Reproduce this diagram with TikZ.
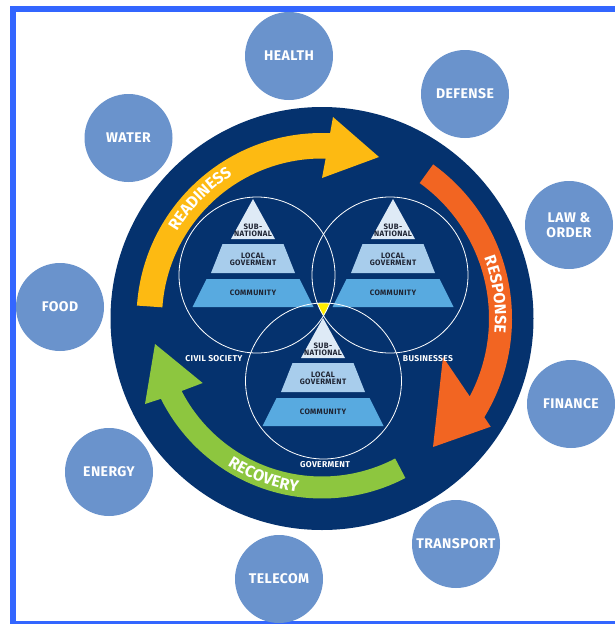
\documentclass[tikz,border=0pt]{standalone}
\usepackage{fontspec}
\setmainfont{Fira Sans}
\newfontfamily\pyrfam[LetterSpace=5]{Fira Sans}
\newfontfamily\lblfam[LetterSpace=4]{Fira Sans}
\newfontfamily\bubfam[LetterSpace=3]{Fira Sans}
\usetikzlibrary{calc,decorations.text}

\definecolor{navy}{RGB}{5,50,110}
\definecolor{bubblec}{RGB}{106,147,204}
\definecolor{frameblue}{RGB}{51,102,255}
\definecolor{pyrtop}{RGB}{222,234,246}
\definecolor{pyrmid}{RGB}{168,205,236}
\definecolor{pyrbot}{RGB}{88,170,224}
\definecolor{pyrtext}{RGB}{30,35,50}
\definecolor{readyc}{RGB}{253,186,18}
\definecolor{respc}{RGB}{242,101,34}
\definecolor{recovc}{RGB}{141,198,63}
\definecolor{coreyellow}{RGB}{255,237,0}

\newcommand\bubblefont{\bubfam\bfseries\fontsize{14}{15.5}\selectfont}
\newcommand\pyrtextfont{\pyrfam\bfseries\fontsize{7.8}{7}\selectfont}
\newcommand\groupfont{\lblfam\bfseries\fontsize{8.5}{9}\selectfont}
\newcommand\arrowtextfont{\color{white}\bfseries\fontsize{16}{16}\selectfont}

\newcommand\drawpyr[3]{%
  \begin{scope}[shift={(#1,#2)}]
    \fill[pyrtop] (0,0) -- (22,40) -- (-22,40) -- cycle;
    \fill[pyrmid] (-30.5,45) -- (30.5,45) -- (42,74) -- (-42,74) -- cycle;
    \fill[pyrbot] (-46.5,80) -- (46.5,80) -- (60.5,108) -- (-60.5,108) -- cycle;
    \node[pyrtxt] (#3sub) at (0,31.5) {SUB-\\NATIONAL};
    \node[pyrtxt] (#3loc) at (0,60) {LOCAL\\GOVERMENT};
    \node[pyrtxt] (#3com) at (0,94) {COMMUNITY};
  \end{scope}}

\begin{document}
\begin{tikzpicture}[x=1pt,y=-1pt,
  bubble/.style={circle, fill=bubblec, minimum size=88pt, inner sep=0pt,
    text=white, align=center, font=\bubblefont},
  pyrtxt/.style={text=pyrtext, align=center, inner sep=0pt, font=\pyrtextfont},
  grouplbl/.style={text=white, inner sep=0pt, font=\groupfont},
  ringline/.style={draw=white, line width=0.8pt}
]
\clip (0,0) rectangle (615,624);
\fill[white] (0,0) rectangle (615,624);
\draw[frameblue, line width=6pt] (13,9) rectangle (650,623.5);

% outer bubbles
\node[bubble] (health)    at (289,56)  {HEALTH};
\node[bubble] (defense)   at (465,94)  {DEFENSE};
\node[bubble] (law)       at (569,225) {LAW \&\\ORDER};
\node[bubble] (finance)   at (571,404) {FINANCE};
\node[bubble] (transport) at (456,544) {TRANSPORT};
\node[bubble] (telecom)   at (279,579) {TELECOM};
\node[bubble] (energy)    at (109,472) {ENERGY};
\node[bubble] (food)      at (60,307)  {FOOD};
\node[bubble] (water)     at (128.5,138) {WATER};

% main disc
\coordinate (C) at (322,318.5);
\fill[navy] (C) circle[radius=211.5];

% readiness arrow
\fill[readyc] ($(C)+(-176:185.5)$) arc[start angle=-176, end angle=-87.5, radius=185.5]
  -- (333,117) -- (379,157) -- (322,178)
  -- ($(C)+(-88.7:160)$) arc[start angle=-88.7, end angle=-176, radius=160] -- cycle;
% response arrow
\fill[respc] ($(C)+(-54.2:190)$) arc[start angle=-54.2, end angle=31.3, radius=190]
  -- (490.7,426.7) -- (433,447) -- (443,357)
  -- ($(C)+(27.8:167)$) arc[start angle=27.8, end angle=-54.2, radius=167] -- cycle;
% recovery arrow
\fill[recovc] ($(C)+(62.4:180)$) arc[start angle=62.4, end angle=153.5, radius=180]
  -- (145,404) -- (155,344) -- (202.7,383)
  -- ($(C)+(152.7:158)$) arc[start angle=152.7, end angle=62.4, radius=158] -- cycle;

% arrow texts
\path[decorate, decoration={text along path, text align=center,
  text={|\arrowtextfont|READINESS}}]
  ($(C)+(-152:169)$) arc[start angle=-152, end angle=-119, radius=169];
\path[decorate, decoration={text along path, text align=center,
  text={|\arrowtextfont|RESPONSE}}]
  ($(C)+(-25:173)$) arc[start angle=-25, end angle=9.3, radius=173];
\path[decorate, decoration={text along path, text align=center,
  text={|\arrowtextfont|RECOVERY}}]
  ($(C)+(128:175)$) arc[start angle=128, end angle=92.7, radius=175];

% pyramids
\drawpyr{253}{199}{l}
\drawpyr{393}{199}{r}
\drawpyr{323}{318}{b}

% venn circles
\coordinate (lc) at (257,275);
\coordinate (rc) at (390,275);
\coordinate (bc) at (323.5,381);
\begin{scope}
  \clip (lc) circle[radius=78];
  \clip (rc) circle[radius=78];
  \fill[coreyellow] (bc) circle[radius=78];
\end{scope}
\draw[ringline] (lc) circle[radius=78];
\draw[ringline] (rc) circle[radius=78];
\draw[ringline] (bc) circle[radius=78];

% group labels
\node[grouplbl] (civil) at (214,359) {CIVIL SOCIETY};
\node[grouplbl] (business) at (428,359) {BUSINESSES};
\node[grouplbl] (gov) at (325,465) {GOVERMENT};
\end{tikzpicture}
\end{document}
